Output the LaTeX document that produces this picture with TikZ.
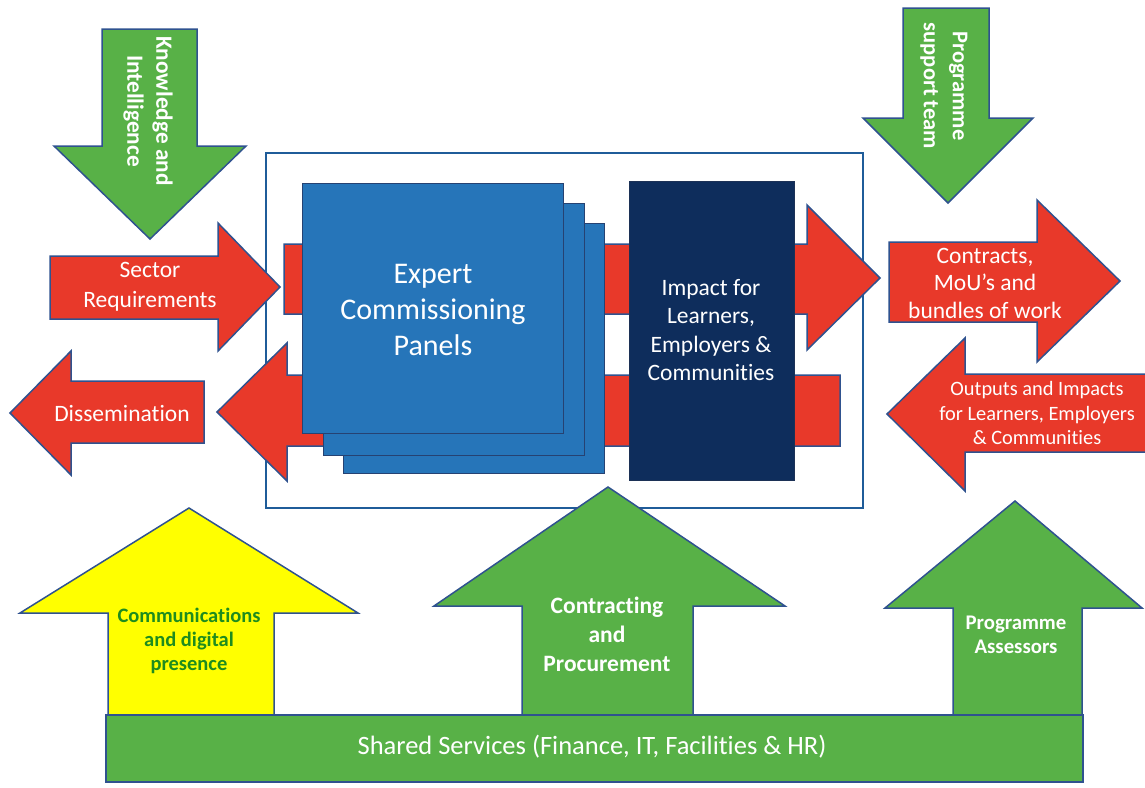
\documentclass[tikz,border=0pt]{standalone}
\usepackage{fontspec}
\setmainfont{Carlito}[Ligatures={NoCommon,NoDiscretionary}]
\definecolor{myred}{HTML}{E8392A}
\definecolor{mygreen}{HTML}{58B147}
\definecolor{myyellow}{HTML}{FFFF00}
\definecolor{myblue}{HTML}{2675B9}
\definecolor{mynavy}{HTML}{0E2D5C}
\definecolor{edge}{HTML}{2F528F}
\definecolor{boxline}{HTML}{1F5C99}
\definecolor{dkgreen}{HTML}{1E8C1E}
\begin{document}
\begin{tikzpicture}[x=1pt,y=-1pt,
  redarrow/.style={fill=myred,draw=edge,line width=1.5pt,line join=miter},
  greenarrow/.style={fill=mygreen,draw=edge,line width=1.5pt,line join=miter},
  yellowarrow/.style={fill=myyellow,draw=edge,line width=1.5pt,line join=miter},
  panel/.style={fill=myblue,draw=edge!80!black,line width=1pt},
  navybox/.style={fill=mynavy,draw=edge!60!black,line width=1pt},
  outerbox/.style={draw=boxline,line width=1.8pt,fill=white},
  txt/.style={align=center,text=white,inner sep=0pt},
  btxt/.style={align=center,text=white,inner sep=0pt,font=\bfseries}]
\useasboundingbox[fill=white] (0,0) rectangle (1145,787);
\clip (0,0) rectangle (1145,787);

% outer box
\draw[outerbox] (266,153) rectangle (863,508);

% inner red arrows
\draw[redarrow] (284,244) -- (807,244) -- (807,205) -- (880,278) -- (807,350) -- (807,314) -- (284,314) -- cycle;
\draw[redarrow] (840,375) -- (287,375) -- (287,343) -- (217,412) -- (287,481) -- (287,446) -- (840,446) -- cycle;

% panels
\draw[panel] (343,223) rectangle (604,473);
\draw[panel] (323,203) rectangle (584,455);
\draw[panel] (302,183) rectangle (563,433);
\node[txt,font=\fontsize{30}{36}\selectfont] (expert) at (433,310) {Expert\\Commissioning\\Panels};

\draw[navybox] (629,181) rectangle (794,480);
\node[txt,font=\fontsize{23.5}{28.5}\selectfont] (impact) at (711,330) {Impact for\\Learners,\\Employers \&\\Communities};

% left arrows
\draw[redarrow] (50,256) -- (218,256) -- (218,223) -- (280,287) -- (218,351) -- (218,319) -- (50,319) -- cycle;
\node[txt,font=\fontsize{23.5}{30}\selectfont] (sector) at (150,287) {Sector\\Requirements};

\draw[redarrow] (204,381) -- (71,381) -- (71,351) -- (10,413) -- (71,475) -- (71,443) -- (204,443) -- cycle;
\node[txt,font=\fontsize{23.5}{27}\selectfont] (dissem) at (122,413) {Dissemination};

% right arrows
\draw[redarrow] (889,242) -- (1037,242) -- (1037,200) -- (1120,281) -- (1037,362) -- (1037,322) -- (889,322) -- cycle;
\node[txt,font=\fontsize{23.5}{27.5}\selectfont] (contracts) at (985,283) {Contracts,\\MoU’s and\\bundles of work};

\draw[redarrow] (1160,374) -- (965,374) -- (965,338) -- (887,414) -- (965,491) -- (965,452) -- (1160,452) -- cycle;
\node[txt,font=\fontsize{20.4}{24.5}\selectfont] (outputs) at (1037,413) {Outputs and Impacts\\for Learners, Employers\\\& Communities};

% top arrows
\draw[greenarrow] (102,29) -- (197,29) -- (197,146) -- (246,146) -- (150,239) -- (54,146) -- (102,146) -- cycle;
\node[btxt,rotate=-90,font=\bfseries\fontsize{23.3}{29}\selectfont] (know) at (148,111) {Knowledge and\\Intelligence};

\draw[greenarrow] (903,8) -- (989,8) -- (989,118) -- (1033,118) -- (948,203) -- (863,118) -- (903,118) -- cycle;
\node[btxt,rotate=-90,font=\bfseries\fontsize{22.5}{29}\selectfont] (pst) at (944,86) {Programme\\support team};

% bottom arrows
\draw[yellowarrow] (108,717) -- (108,613) -- (20,613) -- (189,508) -- (358,613) -- (274,613) -- (274,717) -- cycle;
\node[btxt,text=dkgreen,font=\bfseries\fontsize{20.5}{24}\selectfont] (comms) at (189,641) {Communications\\and digital\\presence};

\draw[greenarrow] (522,717) -- (522,606) -- (434,606) -- (608,487) -- (785,606) -- (693,606) -- (693,717) -- cycle;
\node[btxt,font=\bfseries\fontsize{23.5}{29}\selectfont] (contracting) at (607,634) {Contracting\\and\\Procurement};

\draw[greenarrow] (953,717) -- (953,608) -- (885,608) -- (1015,501) -- (1142,608) -- (1082,608) -- (1082,717) -- cycle;
\node[btxt,font=\bfseries\fontsize{20.8}{24}\selectfont] (assess) at (1016,635) {Programme\\Assessors};

% shared services bar
\draw[greenarrow] (106,715) rectangle (1083,782);
\node[txt,font=\fontsize{26.5}{30}\selectfont] (shared) at (592,747) {Shared Services (Finance, IT, Facilities \& HR)};
\end{tikzpicture}
\end{document}
